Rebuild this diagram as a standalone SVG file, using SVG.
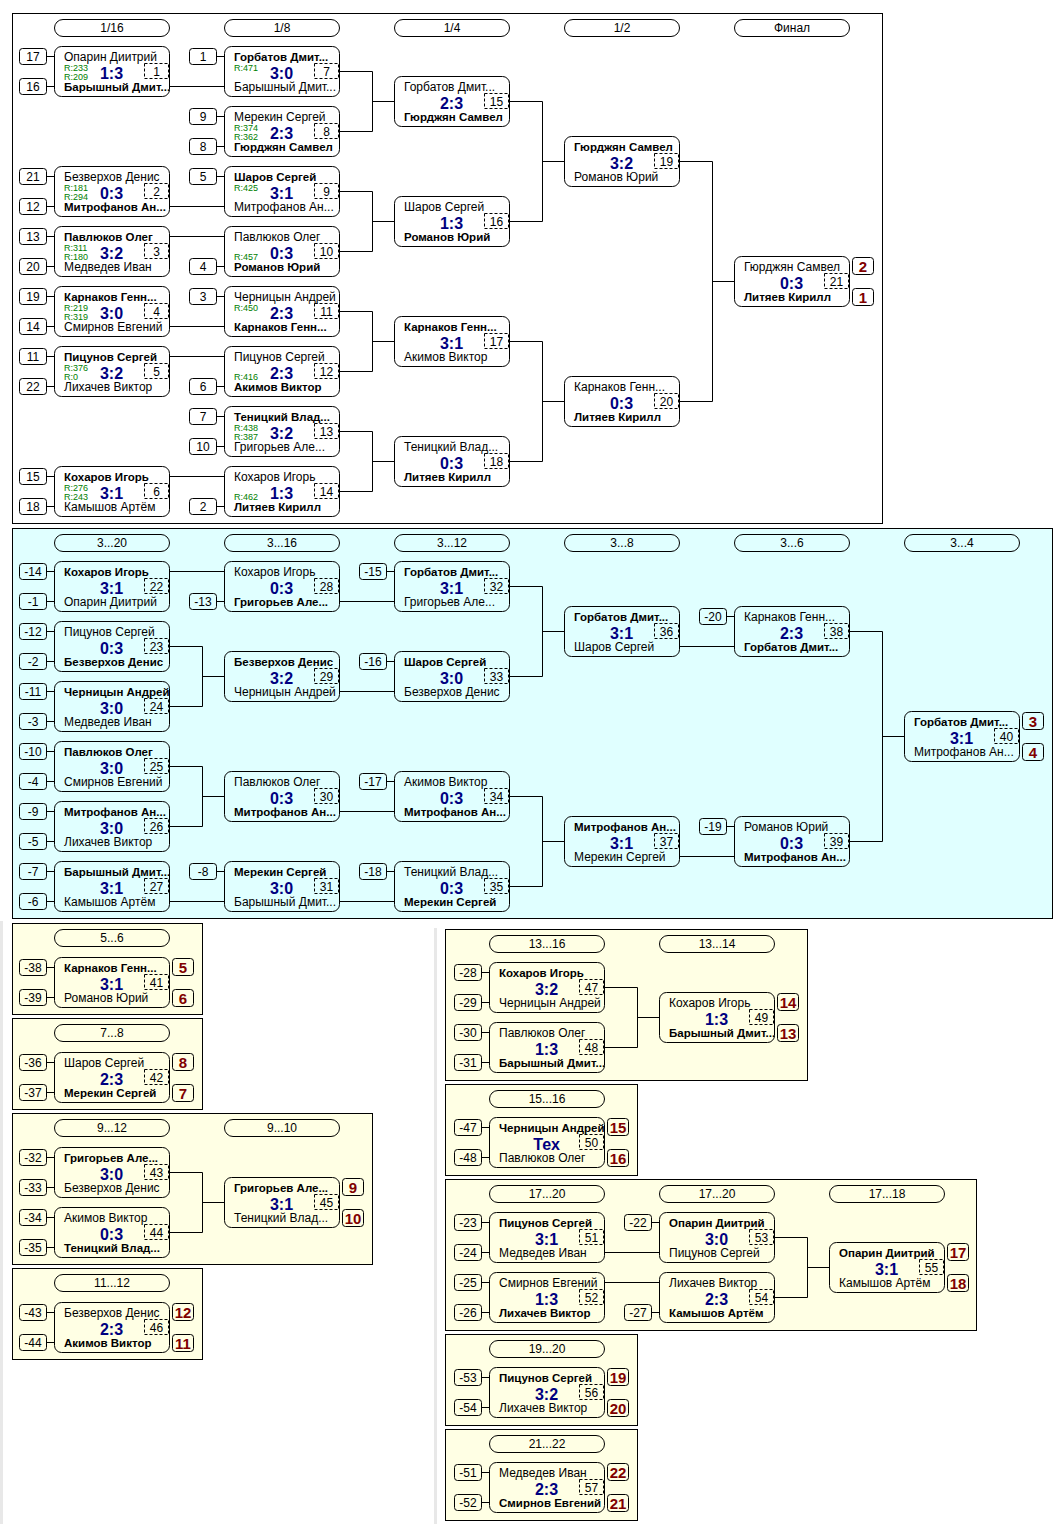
<svg xmlns="http://www.w3.org/2000/svg" xmlns:xlink="http://www.w3.org/1999/xlink" width="1059" height="1524" viewBox="0 0 1059 1524">
<style>
text{font-family:"Liberation Sans",Arial,sans-serif;fill:#000}
.t{font-size:12px}
.b{font-weight:bold;font-size:11.5px}
.s{font-weight:bold;font-size:16px;fill:#000080;text-anchor:middle}
.r{font-size:9px;fill:#008000}
.k{font-size:12px;text-anchor:middle}
.st{font-size:12px;text-anchor:middle}
.pt{font-weight:bold;font-size:15px;fill:#800000;text-anchor:middle}
.ht{font-size:12px;text-anchor:middle}
.mb,.sb,.pb,.hb{fill:none;stroke:#000;stroke-width:1}
.md{fill:none;stroke:#000;stroke-width:1;stroke-dasharray:3 2}
.pan{stroke:#000;stroke-width:1}
</style>
<defs>
<g id="box"><rect class="mb" x="0.5" y="0.5" width="115" height="50" rx="7"/><rect class="md" x="90.5" y="17.5" width="24" height="15"/></g>
<rect id="sbx" class="sb" x="0.5" y="0.5" width="27" height="16" rx="3"/>
<rect id="pbx" class="pb" x="0.5" y="0.5" width="21" height="17" rx="3"/>
<rect id="hbx" class="hb" x="0.5" y="0.5" width="115" height="17" rx="8.5"/>
</defs>
<rect x="0" y="0" width="1059" height="1524" fill="#fff"/>
<rect x="0" y="921" width="3" height="603" fill="#e8e8e8"/>
<rect x="434" y="928" width="3" height="596" fill="#e8e8e8"/>
<g id="panels">
<rect class="pan" x="12.5" y="13.5" width="870" height="510" fill="#fff"/>
<rect class="pan" x="12.5" y="528.5" width="1040" height="390" fill="#E0FFFF"/>
<rect class="pan" x="12.5" y="923.5" width="190" height="91" fill="#FFFFE4"/>
<rect class="pan" x="12.5" y="1018.5" width="190" height="91" fill="#FFFFE4"/>
<rect class="pan" x="12.5" y="1113.5" width="360" height="151" fill="#FFFFE4"/>
<rect class="pan" x="12.5" y="1268.5" width="190" height="91" fill="#FFFFE4"/>
<rect class="pan" x="445.5" y="929.5" width="362" height="151" fill="#FFFFE4"/>
<rect class="pan" x="445.5" y="1084.5" width="192" height="91" fill="#FFFFE4"/>
<rect class="pan" x="445.5" y="1179.5" width="531" height="151" fill="#FFFFE4"/>
<rect class="pan" x="445.5" y="1334.5" width="192" height="91" fill="#FFFFE4"/>
<rect class="pan" x="445.5" y="1429.5" width="192" height="91" fill="#FFFFE4"/>
</g>
<g id="headers">
<g transform="translate(54,19)"><use href="#hbx"/><text class="ht" x="58" y="13">1/16</text></g>
<g transform="translate(224,19)"><use href="#hbx"/><text class="ht" x="58" y="13">1/8</text></g>
<g transform="translate(394,19)"><use href="#hbx"/><text class="ht" x="58" y="13">1/4</text></g>
<g transform="translate(564,19)"><use href="#hbx"/><text class="ht" x="58" y="13">1/2</text></g>
<g transform="translate(734,19)"><use href="#hbx"/><text class="ht" x="58" y="13">Финал</text></g>
<g transform="translate(54,534)"><use href="#hbx"/><text class="ht" x="58" y="13">3...20</text></g>
<g transform="translate(224,534)"><use href="#hbx"/><text class="ht" x="58" y="13">3...16</text></g>
<g transform="translate(394,534)"><use href="#hbx"/><text class="ht" x="58" y="13">3...12</text></g>
<g transform="translate(564,534)"><use href="#hbx"/><text class="ht" x="58" y="13">3...8</text></g>
<g transform="translate(734,534)"><use href="#hbx"/><text class="ht" x="58" y="13">3...6</text></g>
<g transform="translate(904,534)"><use href="#hbx"/><text class="ht" x="58" y="13">3...4</text></g>
<g transform="translate(54,929)"><use href="#hbx"/><text class="ht" x="58" y="13">5...6</text></g>
<g transform="translate(54,1024)"><use href="#hbx"/><text class="ht" x="58" y="13">7...8</text></g>
<g transform="translate(54,1119)"><use href="#hbx"/><text class="ht" x="58" y="13">9...12</text></g>
<g transform="translate(224,1119)"><use href="#hbx"/><text class="ht" x="58" y="13">9...10</text></g>
<g transform="translate(54,1274)"><use href="#hbx"/><text class="ht" x="58" y="13">11...12</text></g>
<g transform="translate(489,935)"><use href="#hbx"/><text class="ht" x="58" y="13">13...16</text></g>
<g transform="translate(659,935)"><use href="#hbx"/><text class="ht" x="58" y="13">13...14</text></g>
<g transform="translate(489,1090)"><use href="#hbx"/><text class="ht" x="58" y="13">15...16</text></g>
<g transform="translate(489,1185)"><use href="#hbx"/><text class="ht" x="58" y="13">17...20</text></g>
<g transform="translate(659,1185)"><use href="#hbx"/><text class="ht" x="58" y="13">17...20</text></g>
<g transform="translate(829,1185)"><use href="#hbx"/><text class="ht" x="58" y="13">17...18</text></g>
<g transform="translate(489,1340)"><use href="#hbx"/><text class="ht" x="58" y="13">19...20</text></g>
<g transform="translate(489,1435)"><use href="#hbx"/><text class="ht" x="58" y="13">21...22</text></g>
</g>
<g id="connectors" fill="none" stroke="#000" stroke-width="1">
<path d="M46.5 56.5H54.5M46.5 86.5H54.5M46.5 176.5H54.5M46.5 206.5H54.5M46.5 236.5H54.5M46.5 266.5H54.5M46.5 296.5H54.5M46.5 326.5H54.5M46.5 356.5H54.5M46.5 386.5H54.5M46.5 476.5H54.5M46.5 506.5H54.5"/>
<path d="M216.5 56.5H224.5M216.5 116.5H224.5M216.5 146.5H224.5M216.5 176.5H224.5M216.5 266.5H224.5M216.5 296.5H224.5M216.5 386.5H224.5M216.5 416.5H224.5M216.5 446.5H224.5M216.5 506.5H224.5"/>
<path d="M169.5 86.5H224.5M169.5 206.5H224.5M169.5 236.5H224.5M169.5 326.5H224.5M169.5 356.5H224.5M169.5 476.5H224.5"/>
<path d="M339.5 71.5H372.5V131.5H339.5M372.5 101.5H394.5M339.5 191.5H372.5V251.5H339.5M372.5 221.5H394.5M339.5 311.5H372.5V371.5H339.5M372.5 341.5H394.5M339.5 431.5H372.5V491.5H339.5M372.5 461.5H394.5"/>
<path d="M509.5 101.5H542.5V221.5H509.5M542.5 161.5H564.5M509.5 341.5H542.5V461.5H509.5M542.5 401.5H564.5M679.5 161.5H712.5V401.5H679.5M712.5 281.5H734.5"/>
<path d="M46.5 571.5H54.5M46.5 601.5H54.5M46.5 631.5H54.5M46.5 661.5H54.5M46.5 691.5H54.5M46.5 721.5H54.5M46.5 751.5H54.5M46.5 781.5H54.5M46.5 811.5H54.5M46.5 841.5H54.5M46.5 871.5H54.5M46.5 901.5H54.5M216.5 601.5H224.5M216.5 871.5H224.5M386.5 571.5H394.5M386.5 661.5H394.5M386.5 781.5H394.5M386.5 871.5H394.5M726.5 616.5H734.5M726.5 826.5H734.5"/>
<path d="M169.5 571.5H224.5M169.5 646.5H202.5V706.5H169.5M202.5 676.5H224.5M169.5 766.5H202.5V826.5H169.5M202.5 796.5H224.5M169.5 901.5H224.5M339.5 601.5H394.5M339.5 691.5H394.5M339.5 811.5H394.5M339.5 901.5H394.5M509.5 586.5H542.5V676.5H509.5M542.5 631.5H564.5M509.5 796.5H542.5V886.5H509.5M542.5 841.5H564.5M679.5 646.5H734.5M679.5 856.5H734.5M849.5 631.5H882.5V841.5H849.5M882.5 736.5H904.5"/>
<path d="M46.5 967.5H54.5M46.5 997.5H54.5M46.5 1062.5H54.5M46.5 1092.5H54.5M46.5 1157.5H54.5M46.5 1187.5H54.5M46.5 1217.5H54.5M46.5 1247.5H54.5M46.5 1312.5H54.5M46.5 1342.5H54.5M169.5 1172.5H202.5V1232.5H169.5M202.5 1202.5H224.5"/>
<path d="M481.5 972.5H489.5M481.5 1002.5H489.5M481.5 1032.5H489.5M481.5 1062.5H489.5M481.5 1127.5H489.5M481.5 1157.5H489.5M481.5 1222.5H489.5M481.5 1252.5H489.5M481.5 1282.5H489.5M481.5 1312.5H489.5M481.5 1377.5H489.5M481.5 1407.5H489.5M481.5 1472.5H489.5M481.5 1502.5H489.5M651.5 1222.5H659.5M651.5 1312.5H659.5"/>
<path d="M604.5 987.5H637.5V1047.5H604.5M637.5 1017.5H659.5M604.5 1252.5H659.5M604.5 1282.5H659.5M774.5 1237.5H807.5V1297.5H774.5M807.5 1267.5H829.5"/>
</g>
<g id="seeds">
<g id="e1" transform="translate(19,48)"><use href="#sbx"/><text class="st" x="14" y="12.5">17</text></g>
<g id="e2" transform="translate(19,78)"><use href="#sbx"/><text class="st" x="14" y="12.5">16</text></g>
<g id="e3" transform="translate(19,168)"><use href="#sbx"/><text class="st" x="14" y="12.5">21</text></g>
<g id="e4" transform="translate(19,198)"><use href="#sbx"/><text class="st" x="14" y="12.5">12</text></g>
<g id="e5" transform="translate(19,228)"><use href="#sbx"/><text class="st" x="14" y="12.5">13</text></g>
<g id="e6" transform="translate(19,258)"><use href="#sbx"/><text class="st" x="14" y="12.5">20</text></g>
<g id="e7" transform="translate(19,288)"><use href="#sbx"/><text class="st" x="14" y="12.5">19</text></g>
<g id="e8" transform="translate(19,318)"><use href="#sbx"/><text class="st" x="14" y="12.5">14</text></g>
<g id="e9" transform="translate(19,348)"><use href="#sbx"/><text class="st" x="14" y="12.5">11</text></g>
<g id="e10" transform="translate(19,378)"><use href="#sbx"/><text class="st" x="14" y="12.5">22</text></g>
<g id="e11" transform="translate(19,468)"><use href="#sbx"/><text class="st" x="14" y="12.5">15</text></g>
<g id="e12" transform="translate(19,498)"><use href="#sbx"/><text class="st" x="14" y="12.5">18</text></g>
<g id="e13" transform="translate(189,48)"><use href="#sbx"/><text class="st" x="14" y="12.5">1</text></g>
<g id="e14" transform="translate(189,108)"><use href="#sbx"/><text class="st" x="14" y="12.5">9</text></g>
<g id="e15" transform="translate(189,138)"><use href="#sbx"/><text class="st" x="14" y="12.5">8</text></g>
<g id="e16" transform="translate(189,168)"><use href="#sbx"/><text class="st" x="14" y="12.5">5</text></g>
<g id="e17" transform="translate(189,258)"><use href="#sbx"/><text class="st" x="14" y="12.5">4</text></g>
<g id="e18" transform="translate(189,288)"><use href="#sbx"/><text class="st" x="14" y="12.5">3</text></g>
<g id="e19" transform="translate(189,378)"><use href="#sbx"/><text class="st" x="14" y="12.5">6</text></g>
<g id="e20" transform="translate(189,408)"><use href="#sbx"/><text class="st" x="14" y="12.5">7</text></g>
<g id="e21" transform="translate(189,438)"><use href="#sbx"/><text class="st" x="14" y="12.5">10</text></g>
<g id="e22" transform="translate(189,498)"><use href="#sbx"/><text class="st" x="14" y="12.5">2</text></g>
<g id="e23" transform="translate(19,563)"><use href="#sbx"/><text class="st" x="14" y="12.5">-14</text></g>
<g id="e24" transform="translate(19,593)"><use href="#sbx"/><text class="st" x="14" y="12.5">-1</text></g>
<g id="e25" transform="translate(19,623)"><use href="#sbx"/><text class="st" x="14" y="12.5">-12</text></g>
<g id="e26" transform="translate(19,653)"><use href="#sbx"/><text class="st" x="14" y="12.5">-2</text></g>
<g id="e27" transform="translate(19,683)"><use href="#sbx"/><text class="st" x="14" y="12.5">-11</text></g>
<g id="e28" transform="translate(19,713)"><use href="#sbx"/><text class="st" x="14" y="12.5">-3</text></g>
<g id="e29" transform="translate(19,743)"><use href="#sbx"/><text class="st" x="14" y="12.5">-10</text></g>
<g id="e30" transform="translate(19,773)"><use href="#sbx"/><text class="st" x="14" y="12.5">-4</text></g>
<g id="e31" transform="translate(19,803)"><use href="#sbx"/><text class="st" x="14" y="12.5">-9</text></g>
<g id="e32" transform="translate(19,833)"><use href="#sbx"/><text class="st" x="14" y="12.5">-5</text></g>
<g id="e33" transform="translate(19,863)"><use href="#sbx"/><text class="st" x="14" y="12.5">-7</text></g>
<g id="e34" transform="translate(19,893)"><use href="#sbx"/><text class="st" x="14" y="12.5">-6</text></g>
<g id="e35" transform="translate(189,593)"><use href="#sbx"/><text class="st" x="14" y="12.5">-13</text></g>
<g id="e36" transform="translate(189,863)"><use href="#sbx"/><text class="st" x="14" y="12.5">-8</text></g>
<g id="e37" transform="translate(359,563)"><use href="#sbx"/><text class="st" x="14" y="12.5">-15</text></g>
<g id="e38" transform="translate(359,653)"><use href="#sbx"/><text class="st" x="14" y="12.5">-16</text></g>
<g id="e39" transform="translate(359,773)"><use href="#sbx"/><text class="st" x="14" y="12.5">-17</text></g>
<g id="e40" transform="translate(359,863)"><use href="#sbx"/><text class="st" x="14" y="12.5">-18</text></g>
<g id="e41" transform="translate(699,608)"><use href="#sbx"/><text class="st" x="14" y="12.5">-20</text></g>
<g id="e42" transform="translate(699,818)"><use href="#sbx"/><text class="st" x="14" y="12.5">-19</text></g>
<g id="e43" transform="translate(19,959)"><use href="#sbx"/><text class="st" x="14" y="12.5">-38</text></g>
<g id="e44" transform="translate(19,989)"><use href="#sbx"/><text class="st" x="14" y="12.5">-39</text></g>
<g id="e45" transform="translate(19,1054)"><use href="#sbx"/><text class="st" x="14" y="12.5">-36</text></g>
<g id="e46" transform="translate(19,1084)"><use href="#sbx"/><text class="st" x="14" y="12.5">-37</text></g>
<g id="e47" transform="translate(19,1149)"><use href="#sbx"/><text class="st" x="14" y="12.5">-32</text></g>
<g id="e48" transform="translate(19,1179)"><use href="#sbx"/><text class="st" x="14" y="12.5">-33</text></g>
<g id="e49" transform="translate(19,1209)"><use href="#sbx"/><text class="st" x="14" y="12.5">-34</text></g>
<g id="e50" transform="translate(19,1239)"><use href="#sbx"/><text class="st" x="14" y="12.5">-35</text></g>
<g id="e51" transform="translate(19,1304)"><use href="#sbx"/><text class="st" x="14" y="12.5">-43</text></g>
<g id="e52" transform="translate(19,1334)"><use href="#sbx"/><text class="st" x="14" y="12.5">-44</text></g>
<g id="e53" transform="translate(454,964)"><use href="#sbx"/><text class="st" x="14" y="12.5">-28</text></g>
<g id="e54" transform="translate(454,994)"><use href="#sbx"/><text class="st" x="14" y="12.5">-29</text></g>
<g id="e55" transform="translate(454,1024)"><use href="#sbx"/><text class="st" x="14" y="12.5">-30</text></g>
<g id="e56" transform="translate(454,1054)"><use href="#sbx"/><text class="st" x="14" y="12.5">-31</text></g>
<g id="e57" transform="translate(454,1119)"><use href="#sbx"/><text class="st" x="14" y="12.5">-47</text></g>
<g id="e58" transform="translate(454,1149)"><use href="#sbx"/><text class="st" x="14" y="12.5">-48</text></g>
<g id="e59" transform="translate(454,1214)"><use href="#sbx"/><text class="st" x="14" y="12.5">-23</text></g>
<g id="e60" transform="translate(454,1244)"><use href="#sbx"/><text class="st" x="14" y="12.5">-24</text></g>
<g id="e61" transform="translate(454,1274)"><use href="#sbx"/><text class="st" x="14" y="12.5">-25</text></g>
<g id="e62" transform="translate(454,1304)"><use href="#sbx"/><text class="st" x="14" y="12.5">-26</text></g>
<g id="e63" transform="translate(624,1214)"><use href="#sbx"/><text class="st" x="14" y="12.5">-22</text></g>
<g id="e64" transform="translate(624,1304)"><use href="#sbx"/><text class="st" x="14" y="12.5">-27</text></g>
<g id="e65" transform="translate(454,1369)"><use href="#sbx"/><text class="st" x="14" y="12.5">-53</text></g>
<g id="e66" transform="translate(454,1399)"><use href="#sbx"/><text class="st" x="14" y="12.5">-54</text></g>
<g id="e67" transform="translate(454,1464)"><use href="#sbx"/><text class="st" x="14" y="12.5">-51</text></g>
<g id="e68" transform="translate(454,1494)"><use href="#sbx"/><text class="st" x="14" y="12.5">-52</text></g>
</g>
<g id="places">
<g transform="translate(852,257)"><use href="#pbx"/><text class="pt" x="11" y="15">2</text></g>
<g transform="translate(852,288)"><use href="#pbx"/><text class="pt" x="11" y="15">1</text></g>
<g transform="translate(1022,712)"><use href="#pbx"/><text class="pt" x="11" y="15">3</text></g>
<g transform="translate(1022,743)"><use href="#pbx"/><text class="pt" x="11" y="15">4</text></g>
<g transform="translate(172,958)"><use href="#pbx"/><text class="pt" x="11" y="15">5</text></g>
<g transform="translate(172,989)"><use href="#pbx"/><text class="pt" x="11" y="15">6</text></g>
<g transform="translate(172,1053)"><use href="#pbx"/><text class="pt" x="11" y="15">8</text></g>
<g transform="translate(172,1084)"><use href="#pbx"/><text class="pt" x="11" y="15">7</text></g>
<g transform="translate(342,1178)"><use href="#pbx"/><text class="pt" x="11" y="15">9</text></g>
<g transform="translate(342,1209)"><use href="#pbx"/><text class="pt" x="11" y="15">10</text></g>
<g transform="translate(172,1303)"><use href="#pbx"/><text class="pt" x="11" y="15">12</text></g>
<g transform="translate(172,1334)"><use href="#pbx"/><text class="pt" x="11" y="15">11</text></g>
<g transform="translate(777,993)"><use href="#pbx"/><text class="pt" x="11" y="15">14</text></g>
<g transform="translate(777,1024)"><use href="#pbx"/><text class="pt" x="11" y="15">13</text></g>
<g transform="translate(607,1118)"><use href="#pbx"/><text class="pt" x="11" y="15">15</text></g>
<g transform="translate(607,1149)"><use href="#pbx"/><text class="pt" x="11" y="15">16</text></g>
<g transform="translate(947,1243)"><use href="#pbx"/><text class="pt" x="11" y="15">17</text></g>
<g transform="translate(947,1274)"><use href="#pbx"/><text class="pt" x="11" y="15">18</text></g>
<g transform="translate(607,1368)"><use href="#pbx"/><text class="pt" x="11" y="15">19</text></g>
<g transform="translate(607,1399)"><use href="#pbx"/><text class="pt" x="11" y="15">20</text></g>
<g transform="translate(607,1463)"><use href="#pbx"/><text class="pt" x="11" y="15">22</text></g>
<g transform="translate(607,1494)"><use href="#pbx"/><text class="pt" x="11" y="15">21</text></g>
</g>
<g id="matches">
<g id="m1" transform="translate(54,46)"><use href="#box"/><text class="t" x="10" y="15">Опарин Диитрий</text><text class="r" x="10" y="25">R:233</text><text class="r" x="10" y="34">R:209</text><text class="s" x="57.5" y="33">1:3</text><text class="b" x="10" y="45">Барышный Дмит...</text><text class="k" x="102.5" y="30">1</text></g>
<g id="m2" transform="translate(54,166)"><use href="#box"/><text class="t" x="10" y="15">Безверхов Денис</text><text class="r" x="10" y="25">R:181</text><text class="r" x="10" y="34">R:294</text><text class="s" x="57.5" y="33">0:3</text><text class="b" x="10" y="45">Митрофанов Ан...</text><text class="k" x="102.5" y="30">2</text></g>
<g id="m3" transform="translate(54,226)"><use href="#box"/><text class="b" x="10" y="15">Павлюков Олег</text><text class="r" x="10" y="25">R:311</text><text class="r" x="10" y="34">R:180</text><text class="s" x="57.5" y="33">3:2</text><text class="t" x="10" y="45">Медведев Иван</text><text class="k" x="102.5" y="30">3</text></g>
<g id="m4" transform="translate(54,286)"><use href="#box"/><text class="b" x="10" y="15">Карнаков Генн...</text><text class="r" x="10" y="25">R:219</text><text class="r" x="10" y="34">R:319</text><text class="s" x="57.5" y="33">3:0</text><text class="t" x="10" y="45">Смирнов Евгений</text><text class="k" x="102.5" y="30">4</text></g>
<g id="m5" transform="translate(54,346)"><use href="#box"/><text class="b" x="10" y="15">Пицунов Сергей</text><text class="r" x="10" y="25">R:376</text><text class="r" x="10" y="34">R:0</text><text class="s" x="57.5" y="33">3:2</text><text class="t" x="10" y="45">Лихачев Виктор</text><text class="k" x="102.5" y="30">5</text></g>
<g id="m6" transform="translate(54,466)"><use href="#box"/><text class="b" x="10" y="15">Кохаров Игорь</text><text class="r" x="10" y="25">R:276</text><text class="r" x="10" y="34">R:243</text><text class="s" x="57.5" y="33">3:1</text><text class="t" x="10" y="45">Камышов Артём</text><text class="k" x="102.5" y="30">6</text></g>
<g id="m7" transform="translate(224,46)"><use href="#box"/><text class="b" x="10" y="15">Горбатов Дмит...</text><text class="r" x="10" y="25">R:471</text><text class="s" x="57.5" y="33">3:0</text><text class="t" x="10" y="45">Барышный Дмит...</text><text class="k" x="102.5" y="30">7</text></g>
<g id="m8" transform="translate(224,106)"><use href="#box"/><text class="t" x="10" y="15">Мерекин Сергей</text><text class="r" x="10" y="25">R:374</text><text class="r" x="10" y="34">R:362</text><text class="s" x="57.5" y="33">2:3</text><text class="b" x="10" y="45">Гюрджян Самвел</text><text class="k" x="102.5" y="30">8</text></g>
<g id="m9" transform="translate(224,166)"><use href="#box"/><text class="b" x="10" y="15">Шаров Сергей</text><text class="r" x="10" y="25">R:425</text><text class="s" x="57.5" y="33">3:1</text><text class="t" x="10" y="45">Митрофанов Ан...</text><text class="k" x="102.5" y="30">9</text></g>
<g id="m10" transform="translate(224,226)"><use href="#box"/><text class="t" x="10" y="15">Павлюков Олег</text><text class="r" x="10" y="34">R:457</text><text class="s" x="57.5" y="33">0:3</text><text class="b" x="10" y="45">Романов Юрий</text><text class="k" x="102.5" y="30">10</text></g>
<g id="m11" transform="translate(224,286)"><use href="#box"/><text class="t" x="10" y="15">Черницын Андрей</text><text class="r" x="10" y="25">R:450</text><text class="s" x="57.5" y="33">2:3</text><text class="b" x="10" y="45">Карнаков Генн...</text><text class="k" x="102.5" y="30">11</text></g>
<g id="m12" transform="translate(224,346)"><use href="#box"/><text class="t" x="10" y="15">Пицунов Сергей</text><text class="r" x="10" y="34">R:416</text><text class="s" x="57.5" y="33">2:3</text><text class="b" x="10" y="45">Акимов Виктор</text><text class="k" x="102.5" y="30">12</text></g>
<g id="m13" transform="translate(224,406)"><use href="#box"/><text class="b" x="10" y="15">Теницкий Влад...</text><text class="r" x="10" y="25">R:438</text><text class="r" x="10" y="34">R:387</text><text class="s" x="57.5" y="33">3:2</text><text class="t" x="10" y="45">Григорьев Але...</text><text class="k" x="102.5" y="30">13</text></g>
<g id="m14" transform="translate(224,466)"><use href="#box"/><text class="t" x="10" y="15">Кохаров Игорь</text><text class="r" x="10" y="34">R:462</text><text class="s" x="57.5" y="33">1:3</text><text class="b" x="10" y="45">Литяев Кирилл</text><text class="k" x="102.5" y="30">14</text></g>
<g id="m15" transform="translate(394,76)"><use href="#box"/><text class="t" x="10" y="15">Горбатов Дмит...</text><text class="s" x="57.5" y="33">2:3</text><text class="b" x="10" y="45">Гюрджян Самвел</text><text class="k" x="102.5" y="30">15</text></g>
<g id="m16" transform="translate(394,196)"><use href="#box"/><text class="t" x="10" y="15">Шаров Сергей</text><text class="s" x="57.5" y="33">1:3</text><text class="b" x="10" y="45">Романов Юрий</text><text class="k" x="102.5" y="30">16</text></g>
<g id="m17" transform="translate(394,316)"><use href="#box"/><text class="b" x="10" y="15">Карнаков Генн...</text><text class="s" x="57.5" y="33">3:1</text><text class="t" x="10" y="45">Акимов Виктор</text><text class="k" x="102.5" y="30">17</text></g>
<g id="m18" transform="translate(394,436)"><use href="#box"/><text class="t" x="10" y="15">Теницкий Влад...</text><text class="s" x="57.5" y="33">0:3</text><text class="b" x="10" y="45">Литяев Кирилл</text><text class="k" x="102.5" y="30">18</text></g>
<g id="m19" transform="translate(564,136)"><use href="#box"/><text class="b" x="10" y="15">Гюрджян Самвел</text><text class="s" x="57.5" y="33">3:2</text><text class="t" x="10" y="45">Романов Юрий</text><text class="k" x="102.5" y="30">19</text></g>
<g id="m20" transform="translate(564,376)"><use href="#box"/><text class="t" x="10" y="15">Карнаков Генн...</text><text class="s" x="57.5" y="33">0:3</text><text class="b" x="10" y="45">Литяев Кирилл</text><text class="k" x="102.5" y="30">20</text></g>
<g id="m21" transform="translate(734,256)"><use href="#box"/><text class="t" x="10" y="15">Гюрджян Самвел</text><text class="s" x="57.5" y="33">0:3</text><text class="b" x="10" y="45">Литяев Кирилл</text><text class="k" x="102.5" y="30">21</text></g>
<g id="m22" transform="translate(54,561)"><use href="#box"/><text class="b" x="10" y="15">Кохаров Игорь</text><text class="s" x="57.5" y="33">3:1</text><text class="t" x="10" y="45">Опарин Диитрий</text><text class="k" x="102.5" y="30">22</text></g>
<g id="m23" transform="translate(54,621)"><use href="#box"/><text class="t" x="10" y="15">Пицунов Сергей</text><text class="s" x="57.5" y="33">0:3</text><text class="b" x="10" y="45">Безверхов Денис</text><text class="k" x="102.5" y="30">23</text></g>
<g id="m24" transform="translate(54,681)"><use href="#box"/><text class="b" x="10" y="15">Черницын Андрей</text><text class="s" x="57.5" y="33">3:0</text><text class="t" x="10" y="45">Медведев Иван</text><text class="k" x="102.5" y="30">24</text></g>
<g id="m25" transform="translate(54,741)"><use href="#box"/><text class="b" x="10" y="15">Павлюков Олег</text><text class="s" x="57.5" y="33">3:0</text><text class="t" x="10" y="45">Смирнов Евгений</text><text class="k" x="102.5" y="30">25</text></g>
<g id="m26" transform="translate(54,801)"><use href="#box"/><text class="b" x="10" y="15">Митрофанов Ан...</text><text class="s" x="57.5" y="33">3:0</text><text class="t" x="10" y="45">Лихачев Виктор</text><text class="k" x="102.5" y="30">26</text></g>
<g id="m27" transform="translate(54,861)"><use href="#box"/><text class="b" x="10" y="15">Барышный Дмит...</text><text class="s" x="57.5" y="33">3:1</text><text class="t" x="10" y="45">Камышов Артём</text><text class="k" x="102.5" y="30">27</text></g>
<g id="m28" transform="translate(224,561)"><use href="#box"/><text class="t" x="10" y="15">Кохаров Игорь</text><text class="s" x="57.5" y="33">0:3</text><text class="b" x="10" y="45">Григорьев Але...</text><text class="k" x="102.5" y="30">28</text></g>
<g id="m29" transform="translate(224,651)"><use href="#box"/><text class="b" x="10" y="15">Безверхов Денис</text><text class="s" x="57.5" y="33">3:2</text><text class="t" x="10" y="45">Черницын Андрей</text><text class="k" x="102.5" y="30">29</text></g>
<g id="m30" transform="translate(224,771)"><use href="#box"/><text class="t" x="10" y="15">Павлюков Олег</text><text class="s" x="57.5" y="33">0:3</text><text class="b" x="10" y="45">Митрофанов Ан...</text><text class="k" x="102.5" y="30">30</text></g>
<g id="m31" transform="translate(224,861)"><use href="#box"/><text class="b" x="10" y="15">Мерекин Сергей</text><text class="s" x="57.5" y="33">3:0</text><text class="t" x="10" y="45">Барышный Дмит...</text><text class="k" x="102.5" y="30">31</text></g>
<g id="m32" transform="translate(394,561)"><use href="#box"/><text class="b" x="10" y="15">Горбатов Дмит...</text><text class="s" x="57.5" y="33">3:1</text><text class="t" x="10" y="45">Григорьев Але...</text><text class="k" x="102.5" y="30">32</text></g>
<g id="m33" transform="translate(394,651)"><use href="#box"/><text class="b" x="10" y="15">Шаров Сергей</text><text class="s" x="57.5" y="33">3:0</text><text class="t" x="10" y="45">Безверхов Денис</text><text class="k" x="102.5" y="30">33</text></g>
<g id="m34" transform="translate(394,771)"><use href="#box"/><text class="t" x="10" y="15">Акимов Виктор</text><text class="s" x="57.5" y="33">0:3</text><text class="b" x="10" y="45">Митрофанов Ан...</text><text class="k" x="102.5" y="30">34</text></g>
<g id="m35" transform="translate(394,861)"><use href="#box"/><text class="t" x="10" y="15">Теницкий Влад...</text><text class="s" x="57.5" y="33">0:3</text><text class="b" x="10" y="45">Мерекин Сергей</text><text class="k" x="102.5" y="30">35</text></g>
<g id="m36" transform="translate(564,606)"><use href="#box"/><text class="b" x="10" y="15">Горбатов Дмит...</text><text class="s" x="57.5" y="33">3:1</text><text class="t" x="10" y="45">Шаров Сергей</text><text class="k" x="102.5" y="30">36</text></g>
<g id="m37" transform="translate(564,816)"><use href="#box"/><text class="b" x="10" y="15">Митрофанов Ан...</text><text class="s" x="57.5" y="33">3:1</text><text class="t" x="10" y="45">Мерекин Сергей</text><text class="k" x="102.5" y="30">37</text></g>
<g id="m38" transform="translate(734,606)"><use href="#box"/><text class="t" x="10" y="15">Карнаков Генн...</text><text class="s" x="57.5" y="33">2:3</text><text class="b" x="10" y="45">Горбатов Дмит...</text><text class="k" x="102.5" y="30">38</text></g>
<g id="m39" transform="translate(734,816)"><use href="#box"/><text class="t" x="10" y="15">Романов Юрий</text><text class="s" x="57.5" y="33">0:3</text><text class="b" x="10" y="45">Митрофанов Ан...</text><text class="k" x="102.5" y="30">39</text></g>
<g id="m40" transform="translate(904,711)"><use href="#box"/><text class="b" x="10" y="15">Горбатов Дмит...</text><text class="s" x="57.5" y="33">3:1</text><text class="t" x="10" y="45">Митрофанов Ан...</text><text class="k" x="102.5" y="30">40</text></g>
<g id="m41" transform="translate(54,957)"><use href="#box"/><text class="b" x="10" y="15">Карнаков Генн...</text><text class="s" x="57.5" y="33">3:1</text><text class="t" x="10" y="45">Романов Юрий</text><text class="k" x="102.5" y="30">41</text></g>
<g id="m42" transform="translate(54,1052)"><use href="#box"/><text class="t" x="10" y="15">Шаров Сергей</text><text class="s" x="57.5" y="33">2:3</text><text class="b" x="10" y="45">Мерекин Сергей</text><text class="k" x="102.5" y="30">42</text></g>
<g id="m43" transform="translate(54,1147)"><use href="#box"/><text class="b" x="10" y="15">Григорьев Але...</text><text class="s" x="57.5" y="33">3:0</text><text class="t" x="10" y="45">Безверхов Денис</text><text class="k" x="102.5" y="30">43</text></g>
<g id="m44" transform="translate(54,1207)"><use href="#box"/><text class="t" x="10" y="15">Акимов Виктор</text><text class="s" x="57.5" y="33">0:3</text><text class="b" x="10" y="45">Теницкий Влад...</text><text class="k" x="102.5" y="30">44</text></g>
<g id="m45" transform="translate(224,1177)"><use href="#box"/><text class="b" x="10" y="15">Григорьев Але...</text><text class="s" x="57.5" y="33">3:1</text><text class="t" x="10" y="45">Теницкий Влад...</text><text class="k" x="102.5" y="30">45</text></g>
<g id="m46" transform="translate(54,1302)"><use href="#box"/><text class="t" x="10" y="15">Безверхов Денис</text><text class="s" x="57.5" y="33">2:3</text><text class="b" x="10" y="45">Акимов Виктор</text><text class="k" x="102.5" y="30">46</text></g>
<g id="m47" transform="translate(489,962)"><use href="#box"/><text class="b" x="10" y="15">Кохаров Игорь</text><text class="s" x="57.5" y="33">3:2</text><text class="t" x="10" y="45">Черницын Андрей</text><text class="k" x="102.5" y="30">47</text></g>
<g id="m48" transform="translate(489,1022)"><use href="#box"/><text class="t" x="10" y="15">Павлюков Олег</text><text class="s" x="57.5" y="33">1:3</text><text class="b" x="10" y="45">Барышный Дмит...</text><text class="k" x="102.5" y="30">48</text></g>
<g id="m49" transform="translate(659,992)"><use href="#box"/><text class="t" x="10" y="15">Кохаров Игорь</text><text class="s" x="57.5" y="33">1:3</text><text class="b" x="10" y="45">Барышный Дмит...</text><text class="k" x="102.5" y="30">49</text></g>
<g id="m50" transform="translate(489,1117)"><use href="#box"/><text class="b" x="10" y="15">Черницын Андрей</text><text class="s" x="57.5" y="33">Тех</text><text class="t" x="10" y="45">Павлюков Олег</text><text class="k" x="102.5" y="30">50</text></g>
<g id="m51" transform="translate(489,1212)"><use href="#box"/><text class="b" x="10" y="15">Пицунов Сергей</text><text class="s" x="57.5" y="33">3:1</text><text class="t" x="10" y="45">Медведев Иван</text><text class="k" x="102.5" y="30">51</text></g>
<g id="m52" transform="translate(489,1272)"><use href="#box"/><text class="t" x="10" y="15">Смирнов Евгений</text><text class="s" x="57.5" y="33">1:3</text><text class="b" x="10" y="45">Лихачев Виктор</text><text class="k" x="102.5" y="30">52</text></g>
<g id="m53" transform="translate(659,1212)"><use href="#box"/><text class="b" x="10" y="15">Опарин Диитрий</text><text class="s" x="57.5" y="33">3:0</text><text class="t" x="10" y="45">Пицунов Сергей</text><text class="k" x="102.5" y="30">53</text></g>
<g id="m54" transform="translate(659,1272)"><use href="#box"/><text class="t" x="10" y="15">Лихачев Виктор</text><text class="s" x="57.5" y="33">2:3</text><text class="b" x="10" y="45">Камышов Артём</text><text class="k" x="102.5" y="30">54</text></g>
<g id="m55" transform="translate(829,1242)"><use href="#box"/><text class="b" x="10" y="15">Опарин Диитрий</text><text class="s" x="57.5" y="33">3:1</text><text class="t" x="10" y="45">Камышов Артём</text><text class="k" x="102.5" y="30">55</text></g>
<g id="m56" transform="translate(489,1367)"><use href="#box"/><text class="b" x="10" y="15">Пицунов Сергей</text><text class="s" x="57.5" y="33">3:2</text><text class="t" x="10" y="45">Лихачев Виктор</text><text class="k" x="102.5" y="30">56</text></g>
<g id="m57" transform="translate(489,1462)"><use href="#box"/><text class="t" x="10" y="15">Медведев Иван</text><text class="s" x="57.5" y="33">2:3</text><text class="b" x="10" y="45">Смирнов Евгений</text><text class="k" x="102.5" y="30">57</text></g>
</g>
</svg>
